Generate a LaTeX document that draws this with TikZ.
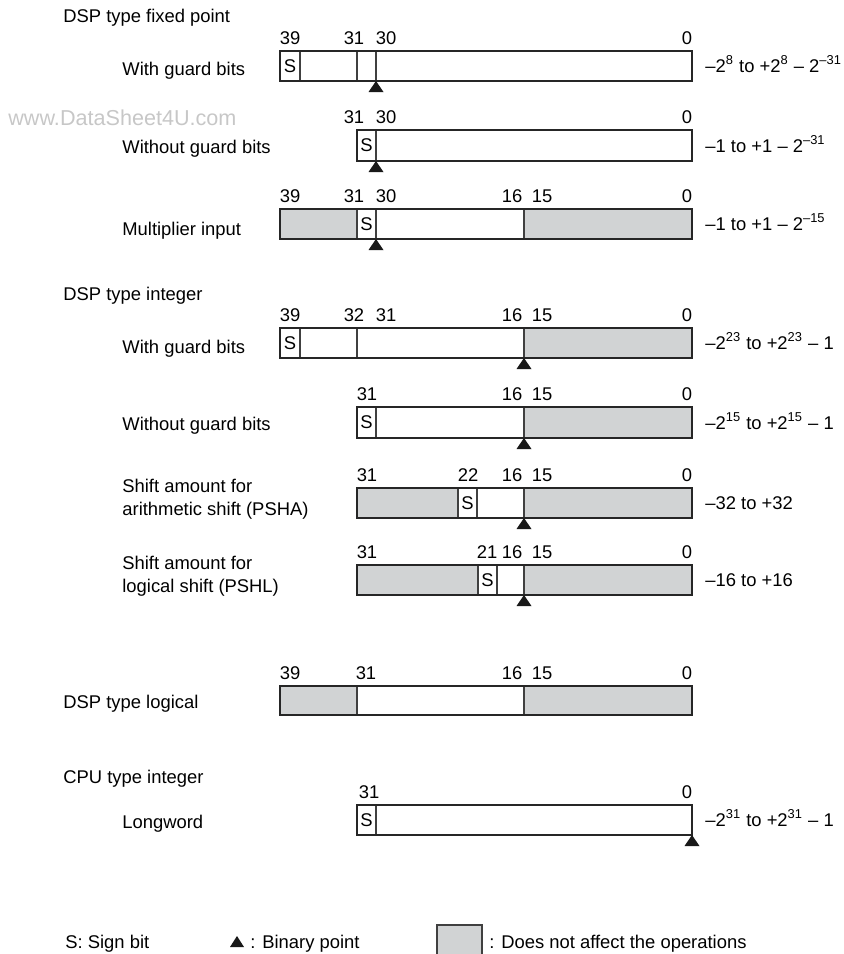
\documentclass[tikz,border=0pt]{standalone}
\usepackage{fontspec}
\setmainfont{Liberation Sans}
\usepackage{tikz}
\usepackage{xcolor}
\definecolor{ignoregray}{RGB}{209,211,212}

\begin{document}
\begin{tikzpicture}[
    x=0.5pt, y=-0.5pt,
    txt/.style={anchor=base west, inner sep=0pt, font=\fontsize{9.2}{11}\selectfont},
    bitnum/.style={anchor=base, inner sep=0pt, font=\fontsize{9.2}{11}\selectfont},
    sbit/.style={inner sep=0pt, font=\fontsize{9.2}{11}\selectfont},
    regframe/.style={draw=black!85, line width=1pt},
    divider/.style={draw=black!75, line width=0.6pt},
    unused/.style={fill=ignoregray},
    bpoint/.style={fill=black!90}
]
\useasboundingbox (0,0) rectangle (844,954);

\node[txt, text=black!22, font=\fontsize{10.8}{12}\selectfont] (wmark) at (8,125) {www.DataSheet4U.com};

\node[txt] (fixhead) at (63,22) {DSP type fixed point};

\node[txt] (fxgtext) at (122,75) {With guard bits};
\node[bitnum] (fxg39) at (290,44.5) {39};
\node[bitnum] (fxg31) at (354,44.5) {31};
\node[bitnum] (fxg30) at (386,44.5) {30};
\node[bitnum] (fxg0) at (687,44.5) {0};
\draw[divider] (300,51) -- (300,81);
\draw[divider] (357,51) -- (357,81);
\draw[divider] (376,51) -- (376,81);
\draw[regframe] (280,51) rectangle (692,81);
\node[sbit] (fxgs) at (290,66) {S};
\fill[bpoint] (376,81) -- ++(-7.5,11) -- ++(15,0) -- cycle;
\node[txt] (fxgrange) at (705,72.5) {–2\textsuperscript{8} to +2\textsuperscript{8} – 2\textsuperscript{–31}};

\node[txt] (fxntext) at (122,153) {Without guard bits};
\node[bitnum] (fxn31) at (354,123.5) {31};
\node[bitnum] (fxn30) at (386,123.5) {30};
\node[bitnum] (fxn0) at (687,123.5) {0};
\draw[divider] (376,130) -- (376,161);
\draw[regframe] (357,130) rectangle (692,161);
\node[sbit] (fxns) at (366.5,145.5) {S};
\fill[bpoint] (376,161) -- ++(-7.5,11) -- ++(15,0) -- cycle;
\node[txt] (fxnrange) at (705,152) {–1 to +1 – 2\textsuperscript{–31}};

\node[txt] (multext) at (122,235) {Multiplier input};
\node[bitnum] (mul39) at (290,202.5) {39};
\node[bitnum] (mul31) at (354,202.5) {31};
\node[bitnum] (mul30) at (386,202.5) {30};
\node[bitnum] (mul16) at (512,202.5) {16};
\node[bitnum] (mul15) at (542,202.5) {15};
\node[bitnum] (mul0) at (687,202.5) {0};
\fill[unused] (280,209) rectangle (357,239);
\fill[unused] (524,209) rectangle (692,239);
\draw[divider] (357,209) -- (357,239);
\draw[divider] (376,209) -- (376,239);
\draw[divider] (524,209) -- (524,239);
\draw[regframe] (280,209) rectangle (692,239);
\node[sbit] (muls) at (366.5,224) {S};
\fill[bpoint] (376,239) -- ++(-7.5,11) -- ++(15,0) -- cycle;
\node[txt] (mulrange) at (705,230.5) {–1 to +1 – 2\textsuperscript{–15}};

\node[txt] (inthead) at (63,300) {DSP type integer};

\node[txt] (ingtext) at (122,353) {With guard bits};
\node[bitnum] (ing39) at (290,321.5) {39};
\node[bitnum] (ing32) at (354,321.5) {32};
\node[bitnum] (ing31) at (386,321.5) {31};
\node[bitnum] (ing16) at (512,321.5) {16};
\node[bitnum] (ing15) at (542,321.5) {15};
\node[bitnum] (ing0) at (687,321.5) {0};
\fill[unused] (524,328) rectangle (692,358);
\draw[divider] (300,328) -- (300,358);
\draw[divider] (357,328) -- (357,358);
\draw[divider] (524,328) -- (524,358);
\draw[regframe] (280,328) rectangle (692,358);
\node[sbit] (ings) at (290,343) {S};
\fill[bpoint] (524,358) -- ++(-7.5,11) -- ++(15,0) -- cycle;
\node[txt] (ingrange) at (705,349.5) {–2\textsuperscript{23} to +2\textsuperscript{23} – 1};

\node[txt] (inntext) at (122,430) {Without guard bits};
\node[bitnum] (inn31) at (367,400.5) {31};
\node[bitnum] (inn16) at (512,400.5) {16};
\node[bitnum] (inn15) at (542,400.5) {15};
\node[bitnum] (inn0) at (687,400.5) {0};
\fill[unused] (524,407) rectangle (692,438);
\draw[divider] (376,407) -- (376,438);
\draw[divider] (524,407) -- (524,438);
\draw[regframe] (357,407) rectangle (692,438);
\node[sbit] (inns) at (366.5,422.5) {S};
\fill[bpoint] (524,438) -- ++(-7.5,11) -- ++(15,0) -- cycle;
\node[txt] (innrange) at (705,429) {–2\textsuperscript{15} to +2\textsuperscript{15} – 1};

\node[txt] (pshatext) at (122,492) {Shift amount for};
\node[txt] (pshatext2) at (122,515) {arithmetic shift (PSHA)};
\node[bitnum] (psha31) at (367,481.5) {31};
\node[bitnum] (psha22) at (468,481.5) {22};
\node[bitnum] (psha16) at (512,481.5) {16};
\node[bitnum] (psha15) at (542,481.5) {15};
\node[bitnum] (psha0) at (687,481.5) {0};
\fill[unused] (357,488) rectangle (458,518);
\fill[unused] (524,488) rectangle (692,518);
\draw[divider] (458,488) -- (458,518);
\draw[divider] (477,488) -- (477,518);
\draw[divider] (524,488) -- (524,518);
\draw[regframe] (357,488) rectangle (692,518);
\node[sbit] (pshas) at (467.5,503) {S};
\fill[bpoint] (524,518) -- ++(-7.5,11) -- ++(15,0) -- cycle;
\node[txt] (psharange) at (705,509.5) {–32 to +32};

\node[txt] (pshltext) at (122,569) {Shift amount for};
\node[txt] (pshltext2) at (122,592) {logical shift (PSHL)};
\node[bitnum] (pshl31) at (367,558.5) {31};
\node[bitnum] (pshl21) at (487,558.5) {21};
\node[bitnum] (pshl16) at (512,558.5) {16};
\node[bitnum] (pshl15) at (542,558.5) {15};
\node[bitnum] (pshl0) at (687,558.5) {0};
\fill[unused] (357,565) rectangle (478,595);
\fill[unused] (524,565) rectangle (692,595);
\draw[divider] (478,565) -- (478,595);
\draw[divider] (497,565) -- (497,595);
\draw[divider] (524,565) -- (524,595);
\draw[regframe] (357,565) rectangle (692,595);
\node[sbit] (pshls) at (487.5,580) {S};
\fill[bpoint] (524,595) -- ++(-7.5,11) -- ++(15,0) -- cycle;
\node[txt] (pshlrange) at (705,586.5) {–16 to +16};

\node[txt] (lgctext) at (63,708) {DSP type logical};
\node[bitnum] (lgc39) at (290,679.5) {39};
\node[bitnum] (lgc31) at (366,679.5) {31};
\node[bitnum] (lgc16) at (512,679.5) {16};
\node[bitnum] (lgc15) at (542,679.5) {15};
\node[bitnum] (lgc0) at (687,679.5) {0};
\fill[unused] (280,686) rectangle (357,715);
\fill[unused] (524,686) rectangle (692,715);
\draw[divider] (357,686) -- (357,715);
\draw[divider] (524,686) -- (524,715);
\draw[regframe] (280,686) rectangle (692,715);

\node[txt] (cpuhead) at (63,783) {CPU type integer};

\node[txt] (lwtext) at (122,828) {Longword};
\node[bitnum] (lw31) at (369,798.5) {31};
\node[bitnum] (lw0) at (687,798.5) {0};
\draw[divider] (376,805) -- (376,835);
\draw[regframe] (357,805) rectangle (692,835);
\node[sbit] (lws) at (366.5,820) {S};
\fill[bpoint] (692,835) -- ++(-7.5,11) -- ++(15,0) -- cycle;
\node[txt] (lwrange) at (705,826.5) {–2\textsuperscript{31} to +2\textsuperscript{31} – 1};

\node[txt] (signkey) at (65,948) {S: Sign bit};
\fill[bpoint] (237,936) -- ++(-7,11) -- ++(14,0) -- cycle;
\node[txt] (pointkey) at (250,948) {: Binary point};
\fill[unused] (437,925) rectangle (482,962);
\draw[divider] (437,962) -- (437,925) -- (482,925) -- (482,962);
\node[txt] (graykey) at (489,948) {: Does not affect the operations};
\end{tikzpicture}
\end{document}
